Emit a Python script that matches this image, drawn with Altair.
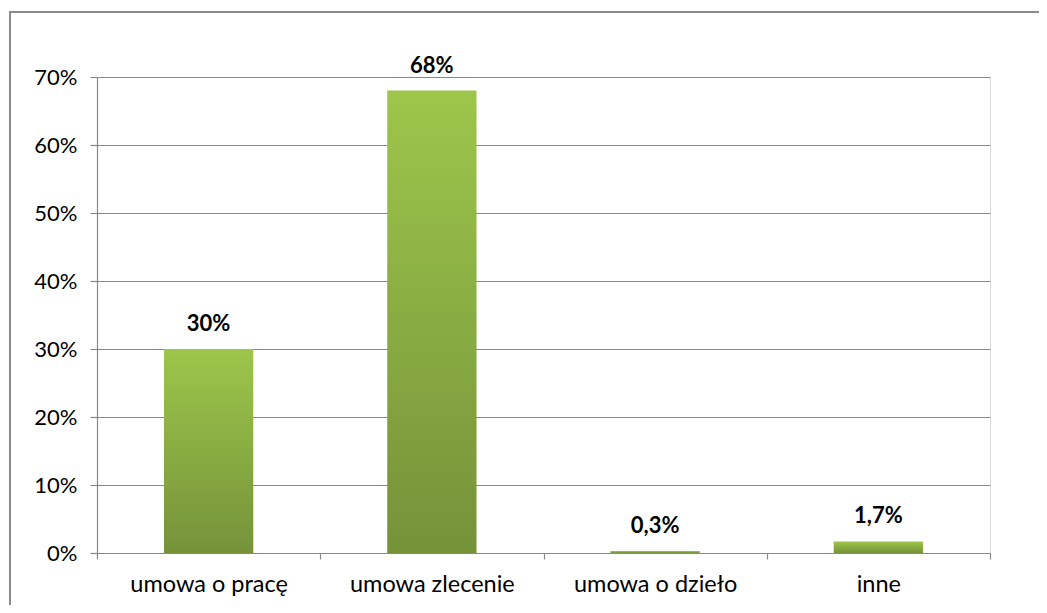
import altair as alt
import pandas as pd

categories = ["umowa o pracę", "umowa zlecenie", "umowa o dzieło", "inne"]
values = [0.30, 0.68, 0.003, 0.017]
labels = ["30%", "68%", "0,3%", "1,7%"]

df = pd.DataFrame({"kategoria": categories, "wartosc": values, "etykieta": labels})

FONT = "Lato"
W, H = 893, 476
PAD_R, PAD_B = 49, 52

x_enc = alt.X("kategoria:N", sort=categories, title=None,
              scale=alt.Scale(paddingInner=0, paddingOuter=0),
              axis=alt.Axis(tickBand="extent", labelAngle=0, labelFont=FONT, labelFontSize=23.5,
                            labelColor="#000000", labelBaseline="alphabetic", labelPadding=32,
                            tickSize=6, tickColor="#888888", domainColor="#888888",
                            domainWidth=1.2, tickWidth=1.2, grid=False))
y_enc = alt.Y("wartosc:Q", title=None,
              scale=alt.Scale(domain=[0, 0.7], nice=False),
              axis=alt.Axis(values=[0, 0.1, 0.2, 0.3, 0.4, 0.5, 0.6, 0.7], format=".0%",
                            labelFont=FONT, labelFontSize=22, labelColor="#000000",
                            labelPadding=13, tickSize=7, tickColor="#888888",
                            domainColor="#888888", domainWidth=1.2, tickWidth=1.2,
                            gridColor="#888888", gridWidth=1.2))

frame = alt.Chart(df).mark_rect(fill="transparent", stroke="#8a8a8a", strokeWidth=1.5).encode(
    x=alt.value(-87), x2=alt.value(W + PAD_R + 200),
    y=alt.value(-65), y2=alt.value(H + PAD_B + 200))

base = alt.Chart(df)

bars = base.mark_bar(
    width=alt.RelativeBandSize(0.4),
    fill=alt.Gradient(gradient="linear", x1=0, y1=0, x2=0, y2=1,
                      stops=[alt.GradientStop(color="#9dc64b", offset=0),
                             alt.GradientStop(color="#759239", offset=1)]),
).encode(x=x_enc, y=y_enc)

text = base.mark_text(font=FONT, fontSize=22, fontWeight="bold", color="#000000",
                      baseline="alphabetic", dy=-18).encode(
    x=alt.X("kategoria:N", sort=categories),
    y=alt.Y("wartosc:Q"),
    text="etykieta:N",
)

chart = alt.layer(frame, bars, text).properties(
    width=W, height=H,
    autosize=alt.AutoSizeParams(type="none"),
    padding={"left": 89, "top": 69, "right": PAD_R, "bottom": PAD_B},
).configure_view(stroke=None).configure(background="#ffffff")

chart.save("out.html", embed_options={"renderer": "svg", "actions": False})
